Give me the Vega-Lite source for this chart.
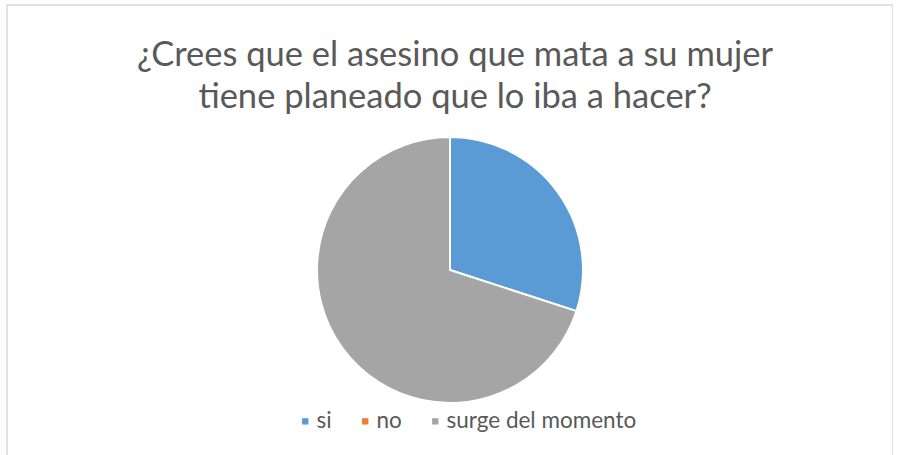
{
  "$schema": "https://vega.github.io/schema/vega-lite/v6.json",
  "autosize": {"type": "none"},
  "padding": {"left": 7, "top": 5, "right": 0, "bottom": 0},
  "width": 886,
  "height": 530,
  "background": "white",
  "title": {
    "text": ["¿Crees que el asesino que mata a su mujer", "tiene planeado que lo iba a hacer?"],
    "anchor": "middle",
    "orient": "top",
    "offset": 0,
    "dy": 111,
    "dx": 5,
    "font": "Lato",
    "fontSize": 34.5,
    "fontWeight": "normal",
    "color": "#595959",
    "lineHeight": 42
  },
  "layer": [
    {
      "data": {"values": [{"marco": "borde"}]},
      "mark": {"type": "rect", "fill": null, "stroke": "#d9d9d9", "strokeWidth": 1.5},
      "encoding": {}
    },
    {
      "data": {
        "values": [
          {"respuesta": "si", "cantidad": 3},
          {"respuesta": "no", "cantidad": 0},
          {"respuesta": "surge del momento", "cantidad": 7}
        ]
      },
      "mark": {"type": "arc", "outerRadius": 133, "stroke": "white", "strokeWidth": 2},
      "encoding": {
        "theta": {"field": "cantidad", "type": "quantitative", "stack": true},
        "color": {
          "field": "respuesta",
          "type": "nominal",
          "scale": {"domain": ["si", "no", "surge del momento"], "range": ["#5B9BD5", "#ED7D31", "#A5A5A5"]},
          "legend": {
            "title": null,
            "orient": "none",
            "direction": "horizontal",
            "legendX": 287,
            "legendY": 405,
            "symbolType": "square",
            "symbolSize": 40,
            "labelFont": "Lato",
            "labelFontSize": 22.5,
            "labelColor": "#595959",
            "labelLimit": 400,
            "labelOffset": 0,
            "columnPadding": 22,
            "symbolStrokeWidth": 0
          }
        }
      }
    }
  ],
  "config": {"view": {"stroke": null}}
}
